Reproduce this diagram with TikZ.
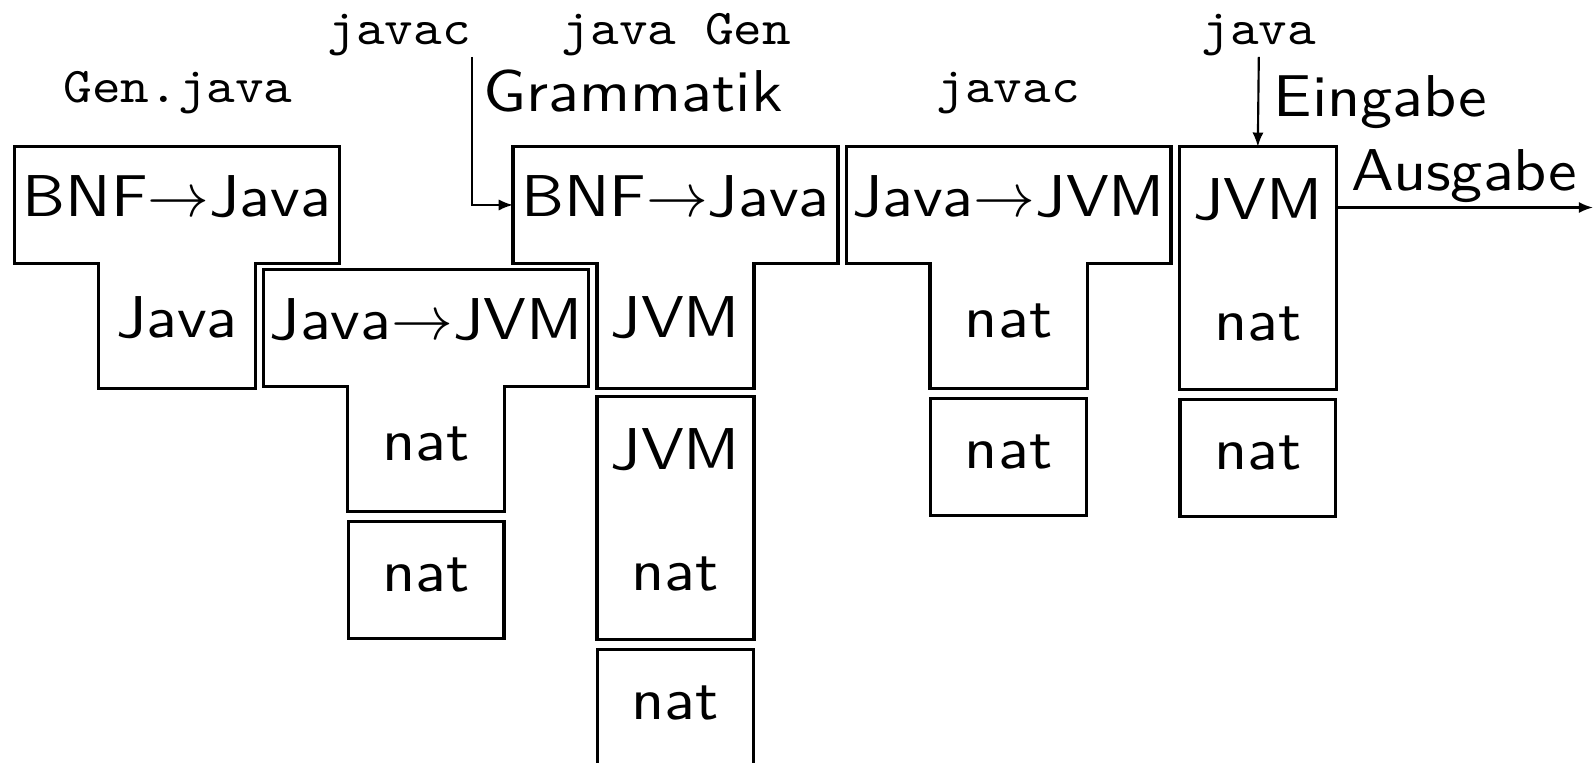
\documentclass[tikz,border=0pt]{standalone}
\usepackage{fontspec}
\setsansfont{lmsans10-regular.otf}[FakeStretch=1.09]
\setmonofont{lmmono10-regular.otf}[FakeStretch=1.09]
\usetikzlibrary{arrows.meta,positioning}

\begin{document}
\begin{tikzpicture}[
  font=\fontsize{16.5}{20}\selectfont\sffamily,
  >={Latex[length=1.4mm,width=1.1mm]},
  bar/.style={minimum width=3.18cm, minimum height=1.13cm, inner sep=0pt, text height=0.65em, text depth=0pt},
  stem/.style={minimum width=1.53cm, minimum height=1.22cm, inner sep=0pt, text height=0.65em, text depth=0pt},
  half/.style={minimum width=1.53cm, minimum height=1.18cm, inner sep=0pt, text height=0.65em, text depth=0pt},
  box/.style={draw, line width=0.9pt, minimum width=1.53cm, minimum height=1.15cm, inner sep=0pt, text height=0.65em, text depth=0pt},
  tline/.style={line width=0.9pt},
  cmd/.style={font=\fontsize{14}{17}\selectfont\ttfamily, anchor=base, inner sep=0pt},
  lbl/.style={anchor=base west, inner sep=0pt},
  arr/.style={->, line width=0.6pt}
]
\useasboundingbox (0,-0.02) rectangle (15.68,7.48);

%% ============ T1: Gen.java (BNF -> Java in Java) ============
\node[cmd]  (genjava) at (1.75,6.47) {Gen.java};
\node[bar]  (bnfA)    at (1.74,5.465) {BNF$\rightarrow$Java};
\node[stem] (javaA)   [below=0pt of bnfA] {Java};
\draw[tline] (bnfA.north west) -- (bnfA.north east) -- (bnfA.south east) -- (javaA.north east)
  -- (javaA.south east) -- (javaA.south west) -- (javaA.north west) -- (bnfA.south west) -- cycle;

%% ============ T2: javac translates Gen.java ============
\node[cmd]  (javacA) at (3.925,7.04) {javac};
\node[bar]  (jjA)    at (4.19,4.255) {Java$\rightarrow$JVM};
\node[stem] (natA)   [below=0pt of jjA] {nat};
\node[box]  (natB)   [below=0.08cm of natA] {nat};
\draw[tline] (jjA.north west) -- (jjA.north east) -- (jjA.south east) -- (natA.north east)
  -- (natA.south east) -- (natA.south west) -- (natA.north west) -- (jjA.south west) -- cycle;

%% ============ T3: generated parser, run on the JVM ============
\node[cmd]  (javagen) at (6.65,7.04) {java Gen};
\node[lbl]  (gramm)   at (4.75,6.38) {Grammatik};
\node[bar]  (bnfB)    at (6.64,5.465) {BNF$\rightarrow$Java};
\node[stem] (jvmB)    [below=0pt of bnfB] {JVM};
\draw[tline] (bnfB.north west) -- (bnfB.north east) -- (bnfB.south east) -- (jvmB.north east)
  -- (jvmB.south east) -- (jvmB.south west) -- (jvmB.north west) -- (bnfB.south west) -- cycle;

\node[half] (jvmC) [below=0.08cm of jvmB] {JVM};
\node[half] (natC) [below=0pt of jvmC] {nat};
\draw[tline] (jvmC.north west) rectangle (natC.south east);
\node[box]  (natD) [below=0.08cm of natC] {nat};

\draw[arr] (javacA.south east) |- (bnfB.west);

%% ============ T4: javac ============
\node[cmd]  (javacB) at (9.91,6.47) {javac};
\node[bar]  (jjB)    at (9.915,5.465) {Java$\rightarrow$JVM};
\node[stem] (natE)   [below=0pt of jjB] {nat};
\node[box]  (natF)   [below=0.08cm of natE] {nat};
\draw[tline] (jjB.north west) -- (jjB.north east) -- (jjB.south east) -- (natE.north east)
  -- (natE.south east) -- (natE.south west) -- (natE.north west) -- (jjB.south west) -- cycle;

%% ============ I5: java interpreter ============
\node[cmd]  (java) at (12.375,7.04) {java};
\node[half] (jvmG) at (12.365,5.44) {JVM};
\node[half] (natG) [below=0pt of jvmG] {nat};
\draw[tline] (jvmG.north west) rectangle (natG.south east);
\node[box]  (natH) [below=0.08cm of natG] {nat};

\coordinate (outend) at (15.66,5.44);
\draw[arr] (java.south) -- node[right, inner sep=4pt] (eingabe) {Eingabe} (jvmG.north);
\draw[arr] (jvmG.east) -- node[above, inner sep=1pt] (ausgabe) {Ausgabe} (outend);

\end{tikzpicture}
\end{document}
